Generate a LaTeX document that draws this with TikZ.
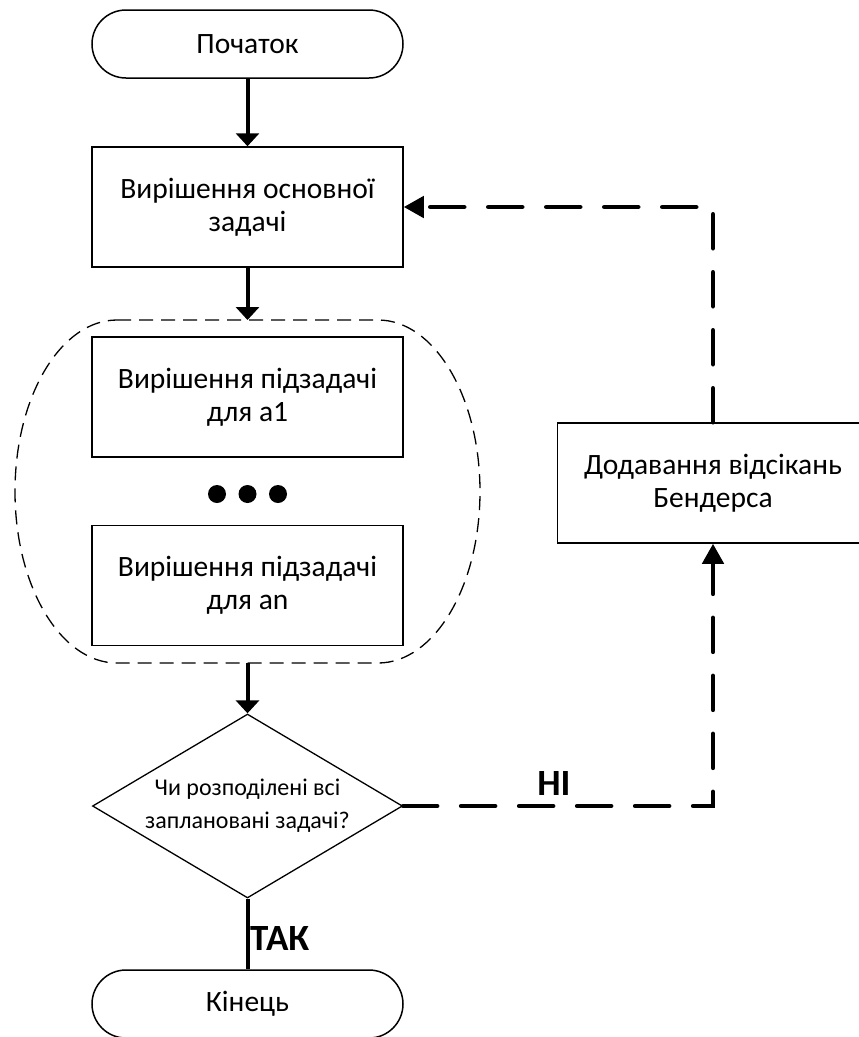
\documentclass[tikz,border=0pt]{standalone}
\usepackage{fontspec}
\setmainfont{Carlito}
\usetikzlibrary{arrows.meta,shapes.geometric}

\begin{document}
\begin{tikzpicture}[x=1pt,y=-1pt,
  every node/.style={align=center},
  procbox/.style={draw, line width=1.5pt, minimum width=311pt, minimum height=120pt,
    inner sep=0pt, fill=white, font=\fontsize{29.5}{33}\selectfont},
  termbox/.style={procbox, minimum height=68pt, rounded corners=34pt},
  decbox/.style={diamond, draw, line width=1.3pt, minimum width=310pt, minimum height=184pt,
    shape aspect=1.685, inner sep=0pt, fill=white, font=\fontsize{24}{33}\selectfont},
  dotmark/.style={circle, fill=black, minimum size=18pt, inner sep=0pt},
  flow/.style={line width=4pt, -{Triangle[length=13pt,width=23pt]}},
  plainflow/.style={line width=4pt},
  loopflow/.style={line width=4.5pt, line cap=round, dash pattern=on 34pt off 24pt,
    -{Triangle[length=20pt,width=21pt]}},
  groupline/.style={line width=1.3pt, dash pattern=on 14pt off 8pt},
  lbl/.style={inner sep=0pt, font=\fontsize{37}{40}\selectfont\bfseries}
]
\useasboundingbox (0,0) rectangle (859,1037);
\clip (0,0) rectangle (859,1037);

% dashed outline grouping the subproblem blocks
\draw[groupline] (117,320) -- (378,320)
  arc[start angle=90, end angle=0, x radius=102pt, y radius=171.5pt]
  arc[start angle=0, end angle=-90, x radius=102pt, y radius=171.5pt]
  -- (117,663)
  arc[start angle=270, end angle=180, x radius=102pt, y radius=171.5pt]
  arc[start angle=180, end angle=90, x radius=102pt, y radius=171.5pt]
  -- cycle;
\coordinate (grptop) at (247.5,320);
\coordinate (grpbot) at (247.5,663);

% blocks
\node[termbox] (start) at (247.5,44) {Початок};
\node[procbox] (master) at (247.5,207) {Вирішення основної\\задачі};
\node[procbox] (sub1) at (247.5,397) {Вирішення підзадачі\\для a1};
\node[dotmark] (dot1) at (217,494) {};
\node[dotmark] (dot2) at (247.5,494) {};
\node[dotmark] (dot3) at (278,494) {};
\node[procbox] (subn) at (247.5,585.5) {Вирішення підзадачі\\для an};
\node[decbox] (check) at (247.5,806) {Чи розподілені всі\\заплановані задачі?};
\node[termbox] (finish) at (247.5,1004) {Кінець};
\node[procbox] (cuts) at (713,483) {Додавання відсікань\\Бендерса};

% main flow
\draw[flow] (start) -- (master);
\draw[flow] (master) -- (grptop);
\draw[flow] (grpbot) -- (check);
\draw[plainflow] (check.south) -- (finish.north);
\node[lbl, anchor=west] (yes) at (250,938) {ТАК};

% feedback loop
\draw[loopflow] (check.east) -| (cuts.south);
\draw[loopflow] (cuts.north) |- (master.east);
\node[lbl] (no) at (554,783) {НІ};
\end{tikzpicture}
\end{document}
